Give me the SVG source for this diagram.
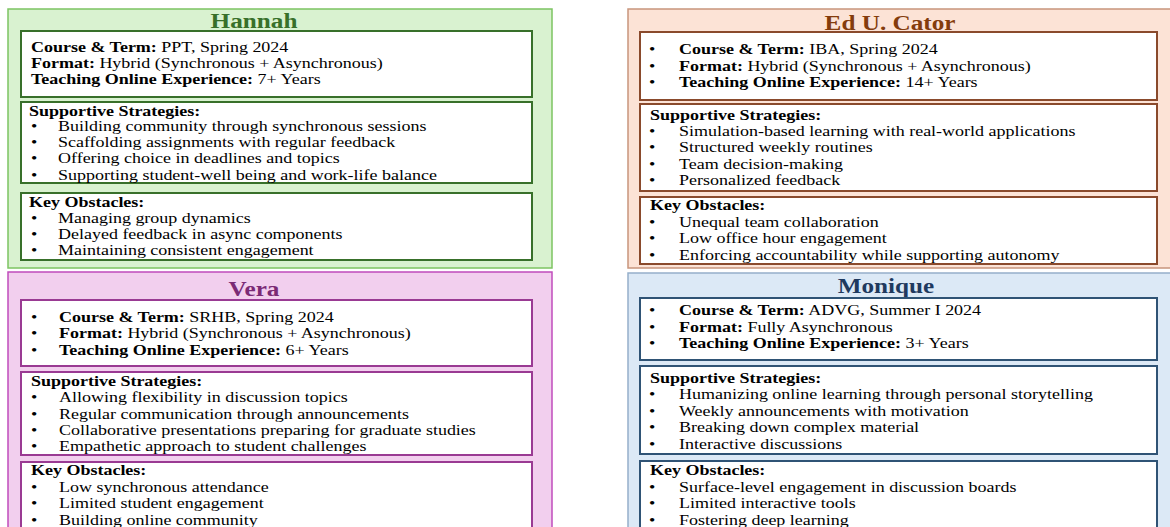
<svg xmlns="http://www.w3.org/2000/svg" width="1170" height="527" viewBox="0 0 1170 527">
<style>
.t{font-family:"Liberation Serif","Times New Roman",serif;font-size:15px;fill:#000}
.b{font-weight:bold}
.h{font-family:"Liberation Serif","Times New Roman",serif;font-size:21px;font-weight:bold;text-anchor:middle}
.ib{fill:#fff;stroke-width:2}
.op{stroke-width:1.5}
</style>
<rect width="1170" height="527" fill="#fff"/>
<g id="connectors"></g>
<g id="hannah">
<rect class="op" x="8" y="9" width="544" height="259" fill="#d9f2d0" stroke="#7cc462"/>
<text class="h" fill="#38702a" transform="translate(254,28) scale(1.2,1)">Hannah</text>
<rect class="ib" x="21" y="31" width="511" height="66" stroke="#38702a"/>
<text class="t" transform="translate(31,52) scale(1.2,1)"><tspan class="b">Course &amp; Term:</tspan> PPT, Spring 2024</text>
<text class="t" transform="translate(31,68) scale(1.2,1)"><tspan class="b">Format:</tspan> Hybrid (Synchronous + Asynchronous)</text>
<text class="t" transform="translate(31,84) scale(1.2,1)"><tspan class="b">Teaching Online Experience:</tspan> 7+ Years</text>
<rect class="ib" x="21" y="102" width="511" height="81" stroke="#38702a"/>
<text class="t b" transform="translate(29,116) scale(1.2,1)">Supportive Strategies:</text>
<text class="t" transform="translate(31,131) scale(1.2,1)">•</text><text class="t" transform="translate(58,131) scale(1.2,1)">Building community through synchronous sessions</text>
<text class="t" transform="translate(31,147) scale(1.2,1)">•</text><text class="t" transform="translate(58,147) scale(1.2,1)">Scaffolding assignments with regular feedback</text>
<text class="t" transform="translate(31,163) scale(1.2,1)">•</text><text class="t" transform="translate(58,163) scale(1.2,1)">Offering choice in deadlines and topics</text>
<text class="t" transform="translate(31,180) scale(1.2,1)">•</text><text class="t" transform="translate(58,180) scale(1.2,1)">Supporting student-well being and work-life balance</text>
<rect class="ib" x="21" y="193" width="511" height="67" stroke="#38702a"/>
<text class="t b" transform="translate(29,207) scale(1.2,1)">Key Obstacles:</text>
<text class="t" transform="translate(31,223) scale(1.2,1)">•</text><text class="t" transform="translate(58,223) scale(1.2,1)">Managing group dynamics</text>
<text class="t" transform="translate(31,239) scale(1.2,1)">•</text><text class="t" transform="translate(58,239) scale(1.2,1)">Delayed feedback in async components</text>
<text class="t" transform="translate(31,255) scale(1.2,1)">•</text><text class="t" transform="translate(58,255) scale(1.2,1)">Maintaining consistent engagement</text>
</g>
<g id="vera">
<rect class="op" x="8" y="272" width="544" height="270" fill="#f2cfee" stroke="#c04cbc"/>
<text class="h" fill="#7b2a75" transform="translate(254,296) scale(1.2,1)">Vera</text>
<rect class="ib" x="21" y="300" width="511" height="66" stroke="#9a3a93"/>
<text class="t" transform="translate(31,322) scale(1.2,1)">•</text><text class="t" transform="translate(59,322) scale(1.2,1)"><tspan class="b">Course &amp; Term:</tspan> SRHB, Spring 2024</text>
<text class="t" transform="translate(31,338) scale(1.2,1)">•</text><text class="t" transform="translate(59,338) scale(1.2,1)"><tspan class="b">Format:</tspan> Hybrid (Synchronous + Asynchronous)</text>
<text class="t" transform="translate(31,355) scale(1.2,1)">•</text><text class="t" transform="translate(59,355) scale(1.2,1)"><tspan class="b">Teaching Online Experience:</tspan> 6+ Years</text>
<rect class="ib" x="21" y="372" width="511" height="83" stroke="#9a3a93"/>
<text class="t b" transform="translate(31,386) scale(1.2,1)">Supportive Strategies:</text>
<text class="t" transform="translate(31,402) scale(1.2,1)">•</text><text class="t" transform="translate(59,402) scale(1.2,1)">Allowing flexibility in discussion topics</text>
<text class="t" transform="translate(31,419) scale(1.2,1)">•</text><text class="t" transform="translate(59,419) scale(1.2,1)">Regular communication through announcements</text>
<text class="t" transform="translate(31,435) scale(1.2,1)">•</text><text class="t" transform="translate(59,435) scale(1.2,1)">Collaborative presentations preparing for graduate studies</text>
<text class="t" transform="translate(31,451) scale(1.2,1)">•</text><text class="t" transform="translate(59,451) scale(1.2,1)">Empathetic approach to student challenges</text>
<rect class="ib" x="21" y="462" width="511" height="80" stroke="#9a3a93"/>
<text class="t b" transform="translate(31,475) scale(1.2,1)">Key Obstacles:</text>
<text class="t" transform="translate(31,492) scale(1.2,1)">•</text><text class="t" transform="translate(59,492) scale(1.2,1)">Low synchronous attendance</text>
<text class="t" transform="translate(31,508) scale(1.2,1)">•</text><text class="t" transform="translate(59,508) scale(1.2,1)">Limited student engagement</text>
<text class="t" transform="translate(31,525) scale(1.2,1)">•</text><text class="t" transform="translate(59,525) scale(1.2,1)">Building online community</text>
</g>
<g id="ed-u-cator">
<rect class="op" x="628" y="9" width="560" height="259" fill="#fce3d6" stroke="#c8957c"/>
<text class="h" fill="#843c0c" transform="translate(890,30) scale(1.2,1)">Ed U. Cator</text>
<rect class="ib" x="640" y="32" width="517" height="68" stroke="#8a4a2c"/>
<text class="t" transform="translate(649,54) scale(1.2,1)">•</text><text class="t" transform="translate(679,54) scale(1.2,1)"><tspan class="b">Course &amp; Term:</tspan> IBA, Spring 2024</text>
<text class="t" transform="translate(649,71) scale(1.2,1)">•</text><text class="t" transform="translate(679,71) scale(1.2,1)"><tspan class="b">Format:</tspan> Hybrid (Synchronous + Asynchronous)</text>
<text class="t" transform="translate(649,87) scale(1.2,1)">•</text><text class="t" transform="translate(679,87) scale(1.2,1)"><tspan class="b">Teaching Online Experience:</tspan> 14+ Years</text>
<rect class="ib" x="640" y="104" width="517" height="87" stroke="#8a4a2c"/>
<text class="t b" transform="translate(650,120) scale(1.2,1)">Supportive Strategies:</text>
<text class="t" transform="translate(649,136) scale(1.2,1)">•</text><text class="t" transform="translate(679,136) scale(1.2,1)">Simulation-based learning with real-world applications</text>
<text class="t" transform="translate(649,152) scale(1.2,1)">•</text><text class="t" transform="translate(679,152) scale(1.2,1)">Structured weekly routines</text>
<text class="t" transform="translate(649,169) scale(1.2,1)">•</text><text class="t" transform="translate(679,169) scale(1.2,1)">Team decision-making</text>
<text class="t" transform="translate(649,185) scale(1.2,1)">•</text><text class="t" transform="translate(679,185) scale(1.2,1)">Personalized feedback</text>
<rect class="ib" x="640" y="197" width="517" height="67" stroke="#8a4a2c"/>
<text class="t b" transform="translate(650,210) scale(1.2,1)">Key Obstacles:</text>
<text class="t" transform="translate(649,227) scale(1.2,1)">•</text><text class="t" transform="translate(679,227) scale(1.2,1)">Unequal team collaboration</text>
<text class="t" transform="translate(649,243) scale(1.2,1)">•</text><text class="t" transform="translate(679,243) scale(1.2,1)">Low office hour engagement</text>
<text class="t" transform="translate(649,260) scale(1.2,1)">•</text><text class="t" transform="translate(679,260) scale(1.2,1)">Enforcing accountability while supporting autonomy</text>
</g>
<g id="monique">
<rect class="op" x="628" y="273" width="560" height="270" fill="#dce9f6" stroke="#95afca"/>
<text class="h" fill="#1f3a5f" transform="translate(886,293) scale(1.2,1)">Monique</text>
<rect class="ib" x="640" y="298" width="517" height="62" stroke="#2f5375"/>
<text class="t" transform="translate(649,315) scale(1.2,1)">•</text><text class="t" transform="translate(679,315) scale(1.2,1)"><tspan class="b">Course &amp; Term:</tspan> ADVG, Summer I 2024</text>
<text class="t" transform="translate(649,332) scale(1.2,1)">•</text><text class="t" transform="translate(679,332) scale(1.2,1)"><tspan class="b">Format:</tspan> Fully Asynchronous</text>
<text class="t" transform="translate(649,348) scale(1.2,1)">•</text><text class="t" transform="translate(679,348) scale(1.2,1)"><tspan class="b">Teaching Online Experience:</tspan> 3+ Years</text>
<rect class="ib" x="640" y="366" width="517" height="88" stroke="#2f5375"/>
<text class="t b" transform="translate(650,383) scale(1.2,1)">Supportive Strategies:</text>
<text class="t" transform="translate(649,399) scale(1.2,1)">•</text><text class="t" transform="translate(679,399) scale(1.2,1)">Humanizing online learning through personal storytelling</text>
<text class="t" transform="translate(649,416) scale(1.2,1)">•</text><text class="t" transform="translate(679,416) scale(1.2,1)">Weekly announcements with motivation</text>
<text class="t" transform="translate(649,432) scale(1.2,1)">•</text><text class="t" transform="translate(679,432) scale(1.2,1)">Breaking down complex material</text>
<text class="t" transform="translate(649,449) scale(1.2,1)">•</text><text class="t" transform="translate(679,449) scale(1.2,1)">Interactive discussions</text>
<rect class="ib" x="640" y="461" width="517" height="80" stroke="#2f5375"/>
<text class="t b" transform="translate(650,475) scale(1.2,1)">Key Obstacles:</text>
<text class="t" transform="translate(649,492) scale(1.2,1)">•</text><text class="t" transform="translate(679,492) scale(1.2,1)">Surface-level engagement in discussion boards</text>
<text class="t" transform="translate(649,508) scale(1.2,1)">•</text><text class="t" transform="translate(679,508) scale(1.2,1)">Limited interactive tools</text>
<text class="t" transform="translate(649,525) scale(1.2,1)">•</text><text class="t" transform="translate(679,525) scale(1.2,1)">Fostering deep learning</text>
</g>
</svg>
